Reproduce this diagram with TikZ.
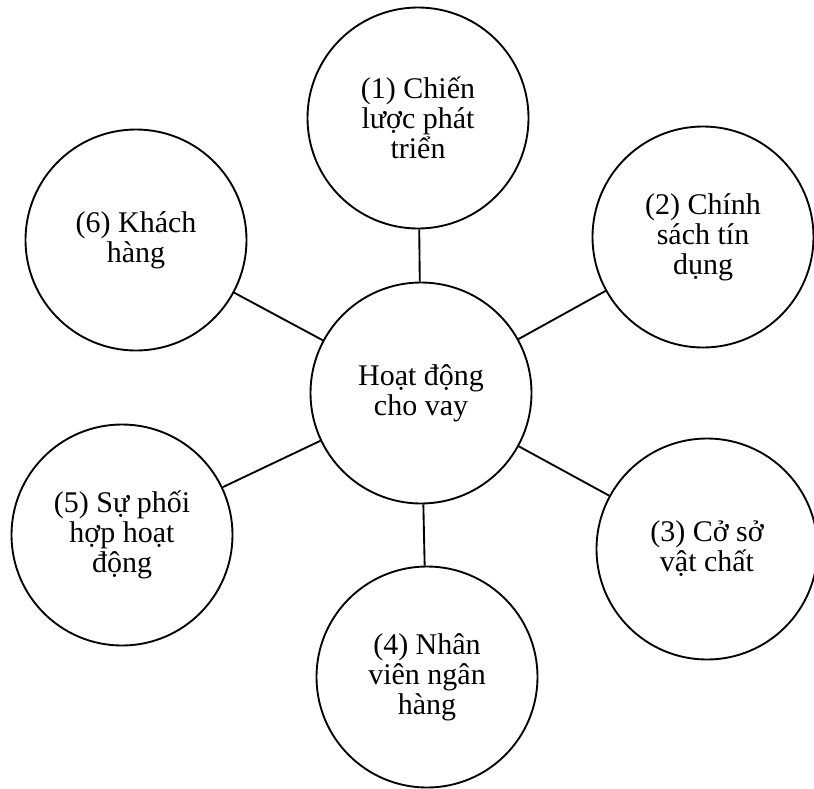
\documentclass[tikz,border=0pt]{standalone}
\usepackage{fontspec}
\setmainfont{Liberation Serif}
\usepackage{tikz}

\begin{document}
\begin{tikzpicture}[x=0.75pt,y=-0.75pt,
  bubble/.style={draw,circle,line width=1.4pt,minimum size=165.75pt,inner sep=0pt,
    align=center,font=\fontsize{22.5}{22.5}\selectfont},
  spoke/.style={line width=1.4pt}]
  % Frame of the picture
  \useasboundingbox (0,0) rectangle (814,789);
  % Central circle
  \node[bubble] (hub) at (421,393) {Hoạt động\\cho vay};
  % Surrounding circles
  \node[bubble] (strat) at (418,118) {(1) Chiến\\lược phát\\triển};
  \node[bubble] (credit) at (703,237) {(2) Chính\\sách tín\\dụng};
  \node[bubble] (facil) at (707,549) {(3) Cở sở\\vật chất};
  \node[bubble] (staff) at (427,677) {(4) Nhân\\viên ngân\\hàng};
  \node[bubble] (coop) at (122,535) {(5) Sự phối\\hợp hoạt\\động};
  \node[bubble] (cust) at (136,240) {(6) Khách\\hàng};
  % Spokes from the centre
  \draw[spoke] (hub) -- (strat);
  \draw[spoke] (hub) -- (credit);
  \draw[spoke] (hub) -- (facil);
  \draw[spoke] (hub) -- (staff);
  \draw[spoke] (hub) -- (coop);
  \draw[spoke] (hub) -- (cust);
\end{tikzpicture}
\end{document}
